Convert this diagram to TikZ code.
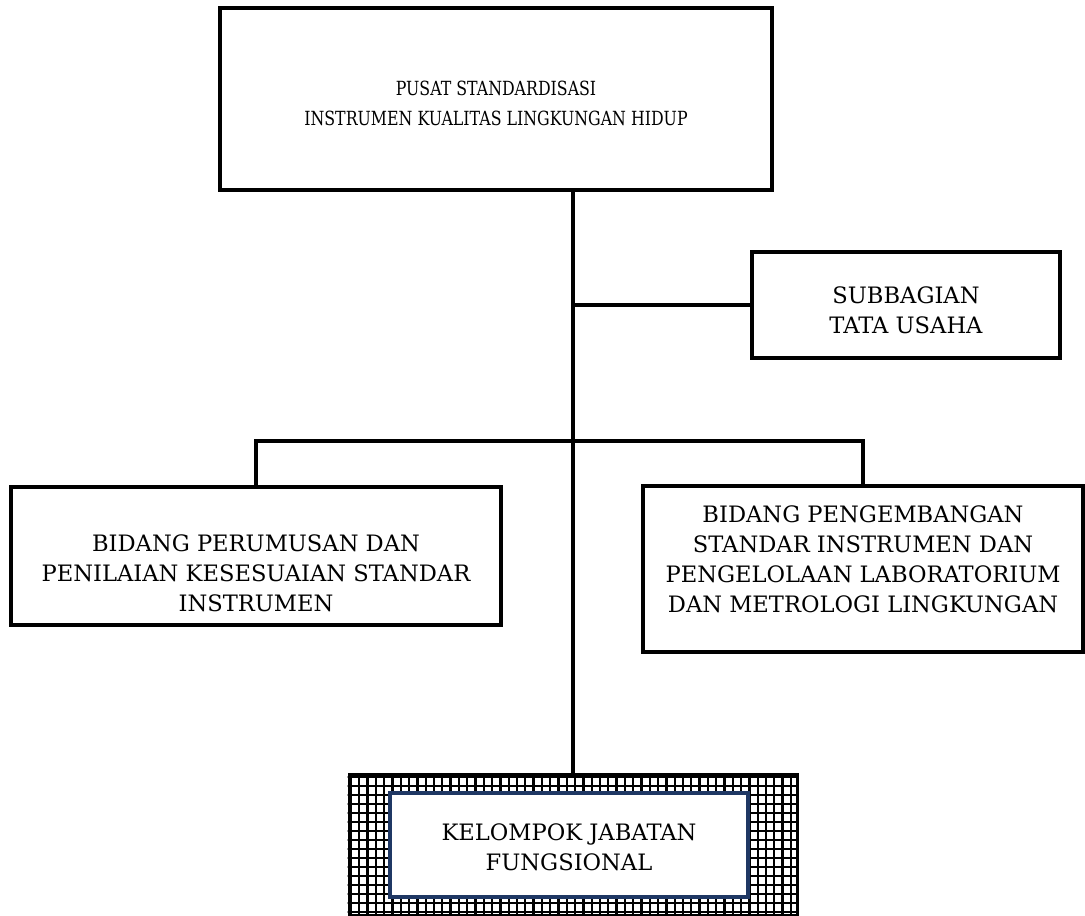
\documentclass[tikz,border=0pt]{standalone}
\usepackage{fontspec}
\setmainfont{DejaVu Serif}
\usepackage{xcolor}
\usepackage{tikz}
\usetikzlibrary{positioning}
\definecolor{navyline}{RGB}{31,56,100}
\tikzset{unit/.style={draw,line width=3.5pt,inner sep=0pt},
  txt/.style={align=center,inner sep=0pt,font=\fontsize{22.6}{30}\selectfont},
  link/.style={line width=3.5pt}}

\begin{document}
\begin{tikzpicture}[x=1pt,y=-1pt]
\useasboundingbox (0,0) rectangle (1085,916);
\node[unit,minimum width=552pt,minimum height=182pt] (pusat) at (496,99) {};
\node[txt,font=\fontsize{19.5}{30}\selectfont\addfontfeature{FakeStretch=0.81}] (pusat-t) at ([yshift=-4pt]pusat)
  {PUSAT STANDARDISASI\\INSTRUMEN KUALITAS LINGKUNGAN HIDUP};
\node[unit,minimum width=308pt,minimum height=106pt] (tu) at (906,305) {};
\node[txt] (tu-t) at ([yshift=-5pt]tu) {SUBBAGIAN\\TATA USAHA};
\node[unit,minimum width=490pt,minimum height=138pt] (perumusan) at (256,556) {};
\node[txt] (perumusan-t) at ([yshift=-17pt]perumusan)
  {BIDANG PERUMUSAN DAN\\PENILAIAN KESESUAIAN STANDAR\\INSTRUMEN};
\node[unit,minimum width=440pt,minimum height=166pt] (pengembangan) at (863,569) {};
\node[txt] (pengembangan-t) at ([yshift=10pt]pengembangan)
  {BIDANG PENGEMBANGAN\\STANDAR INSTRUMEN DAN\\PENGELOLAAN LABORATORIUM\\DAN METROLOGI LINGKUNGAN};
% kotak jabatan fungsional dengan bingkai kotak-kotak
\node[draw,line width=3pt,minimum width=448pt,minimum height=141pt] (bingkai) at (573,845) {};
\begin{scope}
\clip (bingkai.north west) rectangle (bingkai.south east);
\foreach \x in {351,359.3,...,800}
  \draw[line width=2.3pt] (\x,770)--(\x,920);
\foreach \y in {777,786,...,920}
  \draw[line width=2.3pt] (345,\y)--(805,\y);
\end{scope}
\node[unit,draw=navyline,fill=white,minimum width=358pt,minimum height=104pt] (fungsional) at (569,845) {};
\node[txt] (fungsional-t) at ([yshift=-2pt]fungsional) {KELOMPOK JABATAN\\FUNGSIONAL};
\coordinate (bar) at (573,441);
\draw[link] (pusat.south -| bingkai.north) -- (bingkai.north);
\draw[link] (bingkai.north |- tu.west) -- (tu.west);
\draw[link] (perumusan.north) |- (bar) -| (pengembangan.north);
\end{tikzpicture}
\end{document}
